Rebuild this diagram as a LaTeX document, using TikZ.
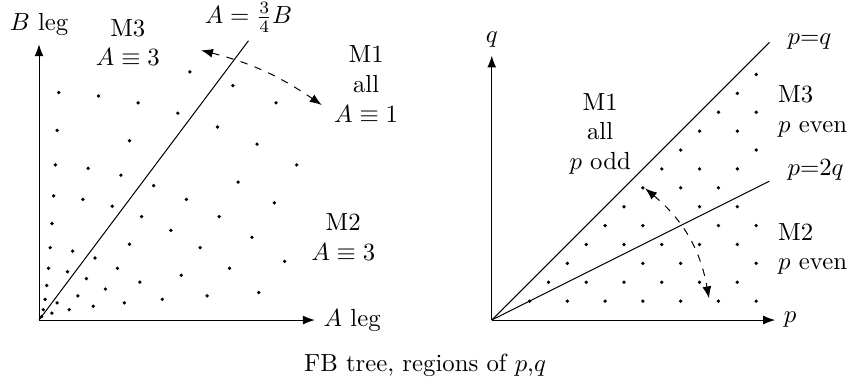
\documentclass[tikz,border=0pt]{standalone}
\usepackage{amsmath}
\usetikzlibrary{arrows.meta}

\begin{document}
\begin{tikzpicture}[>=Latex,
    lbl/.style={align=center},
    dot/.style={fill=black}]
  \useasboundingbox (0,0) rectangle (12.04,5.467);

  \begin{scope}[xshift=0.554cm, yshift=0.923cm, x=0.01224cm, y=0.01224cm]
    \coordinate (o1) at (0,0);
    \coordinate (atip) at (320,0);
    \coordinate (btip) at (0,320);
    \coordinate (lend) at (243,324);
    \draw[->] (o1) -- (atip);
    \draw[->] (o1) -- (btip);
    \draw (o1) -- (lend);
    \node[right] (alabel) at (atip) {$A$ leg};
    \node[above] (blabel) at (btip) {$B$ leg};
    \node[above] (llabel) at (lend) {$A=\frac{3}{4}B$};
    \node[lbl] (m3l) at (103,322) {M3\\$A\equiv 3$};
    \node[lbl] (m1l) at (379.5,274) {M1\\all\\$A\equiv 1$};
    \node[lbl] (m2l) at (353,96) {M2\\$A\equiv 3$};

    \foreach \p in {2,...,18}
      \foreach \q in {1,...,17} {
        \pgfmathtruncatemacro{\ok}{(\q<\p) && (mod(\p+\q,2)==1) && (gcd(\p,\q)==1)
          && (\p*\p-\q*\q<=300) && (2*\p*\q<=300)}
        \ifnum\ok=1 \fill[dot] (\p*\p-\q*\q, 2*\p*\q) circle[radius=0.75pt]; \fi
      }

    \coordinate (l1) at (188,313);
    \coordinate (l2) at (328,249.5);
    \draw[<->, dashed] (l1) to[bend left=10] (l2);
  \end{scope}

  \begin{scope}[xshift=6.982cm, yshift=0.923cm, x=0.2682cm, y=0.2682cm]
    \coordinate (o2) at (0,0);
    \coordinate (ptip) at (15,0);
    \coordinate (qtip) at (0,14);
    \coordinate (pqend) at (14.7,14.7);
    \coordinate (p2qend) at (14.7,7.35);
    \draw[->] (o2) -- (ptip);
    \draw[->] (o2) -- (qtip);
    \draw (o2) -- (pqend);
    \draw (o2) -- (p2qend);
    \node[right] (plabel) at (ptip) {$p$};
    \node[above] (qlabel) at (qtip) {$q$};
    \node[anchor=west] (pq) at (15.2,14.73) {$p{=}q$};
    \node[anchor=west] (p2q) at (15.2,7.94) {$p{=}2q$};
    \node[lbl] (m1r) at (5.74,9.86) {M1\\all\\$p$ odd};
    \node[anchor=west, align=left] (m3r) at (14.7,11.06) {M3\\$p$ even};
    \node[anchor=west, align=left] (m2r) at (14.7,3.76) {M2\\$p$ even};

    \foreach \p in {2,...,14}
      \foreach \q in {1,...,13} {
        \pgfmathtruncatemacro{\ok}{(\q<\p) && (mod(\p+\q,2)==1) && (gcd(\p,\q)==1)}
        \ifnum\ok=1 \fill[dot] (\p,\q) circle[radius=0.75pt]; \fi
      }

    \coordinate (r1) at (8.12,6.97);
    \coordinate (r2) at (11.5,1.15);
    \draw[<->, dashed] (r1) to[bend left=20] (r2);
  \end{scope}

  \node (caption) at (6.035,0.277) {FB tree, regions of $p$,$q$};
\end{tikzpicture}
\end{document}
